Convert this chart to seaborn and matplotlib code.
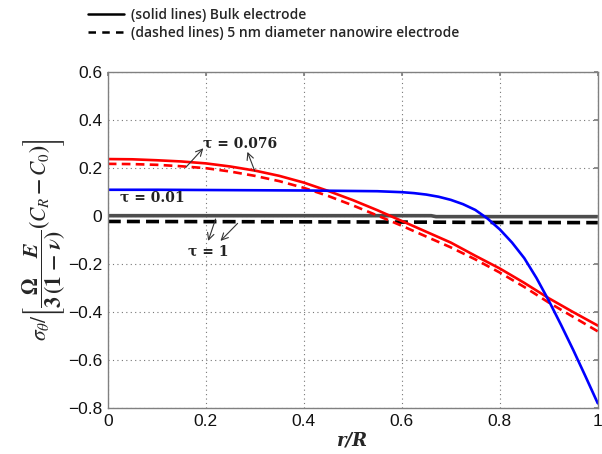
import numpy as np
import pandas as pd
import matplotlib
matplotlib.use("Agg")
import matplotlib.pyplot as plt
from matplotlib.lines import Line2D
import seaborn as sns

# radial positions (r/R)
r_grid = [0.0, 0.05, 0.1, 0.15, 0.2, 0.25, 0.3, 0.35, 0.4, 0.45, 0.5,
          0.55, 0.6, 0.65, 0.7, 0.75, 0.8, 0.85, 0.9, 0.95, 1.0]

# tau = 0.076, bulk (solid) and nanowire (dashed)
red_bulk = [0.238, 0.237, 0.233, 0.228, 0.220, 0.207, 0.190, 0.168, 0.140, 0.105, 0.067,
            0.025, -0.020, -0.065, -0.110, -0.165, -0.218, -0.278, -0.342, -0.400, -0.456]
red_wire = [0.218, 0.217, 0.214, 0.208, 0.200, 0.186, 0.168, 0.146, 0.118, 0.084, 0.045,
            0.003, -0.040, -0.085, -0.130, -0.180, -0.235, -0.295, -0.360, -0.420, -0.480]

# tau = 0.01 (steep drop near the surface)
r_blue = [0.0, 0.1, 0.2, 0.3, 0.4, 0.5, 0.55, 0.6, 0.625, 0.65, 0.675, 0.7, 0.725, 0.75,
          0.775, 0.8, 0.825, 0.85, 0.875, 0.9, 0.925, 0.95, 0.975, 1.0]
blue_bulk = [0.110, 0.110, 0.109, 0.108, 0.107, 0.105, 0.104, 0.100, 0.096, 0.090, 0.081,
             0.068, 0.050, 0.026, -0.010, -0.055, -0.110, -0.175, -0.258, -0.352, -0.453,
             -0.558, -0.668, -0.780]

# tau = 1 (nearly uniform)
r_flat = [0.0, 0.25, 0.5, 0.66, 0.67, 0.75, 1.0]
gray_bulk = [0.002, 0.002, 0.002, 0.002, -0.002, -0.002, -0.002]
black_wire = [-0.022, -0.023, -0.024, -0.025, -0.025, -0.026, -0.027]

x_ticks = [0, 0.2, 0.4, 0.6, 0.8, 1]
x_tick_labels = ["0", "0.2", "0.4", "0.6", "0.8", "1"]
y_ticks = [-0.8, -0.6, -0.4, -0.2, 0, 0.2, 0.4, 0.6]
y_tick_labels = ["\u22120.8", "\u22120.6", "\u22120.4", "\u22120.2", "0", "0.2", "0.4", "0.6"]

sns.set_theme(style="white")
plt.rcParams["font.family"] = ["Liberation Sans", "DejaVu Sans"]
plt.rcParams["mathtext.fontset"] = "stix"

fig = plt.figure(figsize=(6.02, 4.54), dpi=100)
ax = fig.add_axes([0.179, 0.101, 0.814, 0.740])

sns.lineplot(x=r_flat, y=gray_bulk, ax=ax, color="#4d4d4d", lw=2.6, solid_capstyle="butt")
sns.lineplot(x=r_flat, y=black_wire, ax=ax, color="black", lw=2.6)
ax.lines[-1].set_dashes([3.6, 1.7])
sns.lineplot(x=r_grid, y=red_bulk, ax=ax, color="#ff0000", lw=1.9)
sns.lineplot(x=r_grid, y=red_wire, ax=ax, color="#ff0000", lw=1.9)
ax.lines[-1].set_dashes([3.3, 2.0])
sns.lineplot(x=r_blue, y=blue_bulk, ax=ax, color="#0000ff", lw=1.9)

ax.set_xlim(0, 1)
ax.set_ylim(-0.8, 0.6)
ax.set_xticks(x_ticks)
ax.set_xticklabels(x_tick_labels)
ax.set_yticks(y_ticks)
ax.set_yticklabels(y_tick_labels)
ax.tick_params(axis="both", labelsize=12.5, direction="in", length=3, color="#808080",
               top=True, right=True, pad=4, labelcolor="#111111")
ax.grid(True, linestyle=(0, (1, 3)), color="#777777", lw=0.8)
for s in ax.spines.values():
    s.set_color("#808080")
    s.set_linewidth(1.0)

ax.set_xlabel("r/R", family="DejaVu Serif", style="italic", weight="bold",
              fontsize=13, labelpad=2)
ax.set_ylabel(r"$\boldsymbol{\sigma_\theta}/\left[\dfrac{\mathbf{\Omega}\quad\;\boldsymbol{E}}"
              r"{\mathbf{3}\,\mathbf{(1\,-\,}\boldsymbol{\nu}\mathbf{)}}"
              r"\mathbf{(}\boldsymbol{C_R}\,\mathbf{-}\,\boldsymbol{C_0}\mathbf{)}\right]$",
              fontsize=15.5, labelpad=0)

ann_kw = dict(family="DejaVu Serif", weight="bold", fontsize=10, color="#222222")
arrow_kw = dict(arrowstyle="->", color="#333333", lw=0.8, shrinkA=0, shrinkB=0)

ax.text(0.27, 0.30, "\u03c4 = 0.076", ha="center", va="center", **ann_kw)
ax.annotate("", xy=(0.195, 0.283), xytext=(0.160, 0.205), arrowprops=arrow_kw)
ax.annotate("", xy=(0.285, 0.268), xytext=(0.300, 0.188), arrowprops=arrow_kw)

ax.text(0.025, 0.079, "\u03c4 = 0.01", ha="left", va="center", **ann_kw)

ax.text(0.205, -0.150, "\u03c4 = 1", ha="center", va="center", **ann_kw)
ax.annotate("", xy=(0.205, -0.103), xytext=(0.220, -0.012), arrowprops=arrow_kw)
ax.annotate("", xy=(0.230, -0.103), xytext=(0.265, -0.030), arrowprops=arrow_kw)

handles = [Line2D([], [], color="black", lw=1.8),
           Line2D([], [], color="black", lw=1.8, dashes=[3, 2.5])]
labels = ["(solid lines) Bulk electrode",
          "(dashed lines) 5 nm diameter nanowire electrode"]
fig.legend(handles, labels, loc="upper left", bbox_to_anchor=(0.125, 1.01),
           frameon=False, handlelength=2.6, handletextpad=0.5, labelspacing=0.3,
           prop=dict(family="Open Sans", weight="semibold", size=10))

fig.savefig("out.png", dpi=100)
